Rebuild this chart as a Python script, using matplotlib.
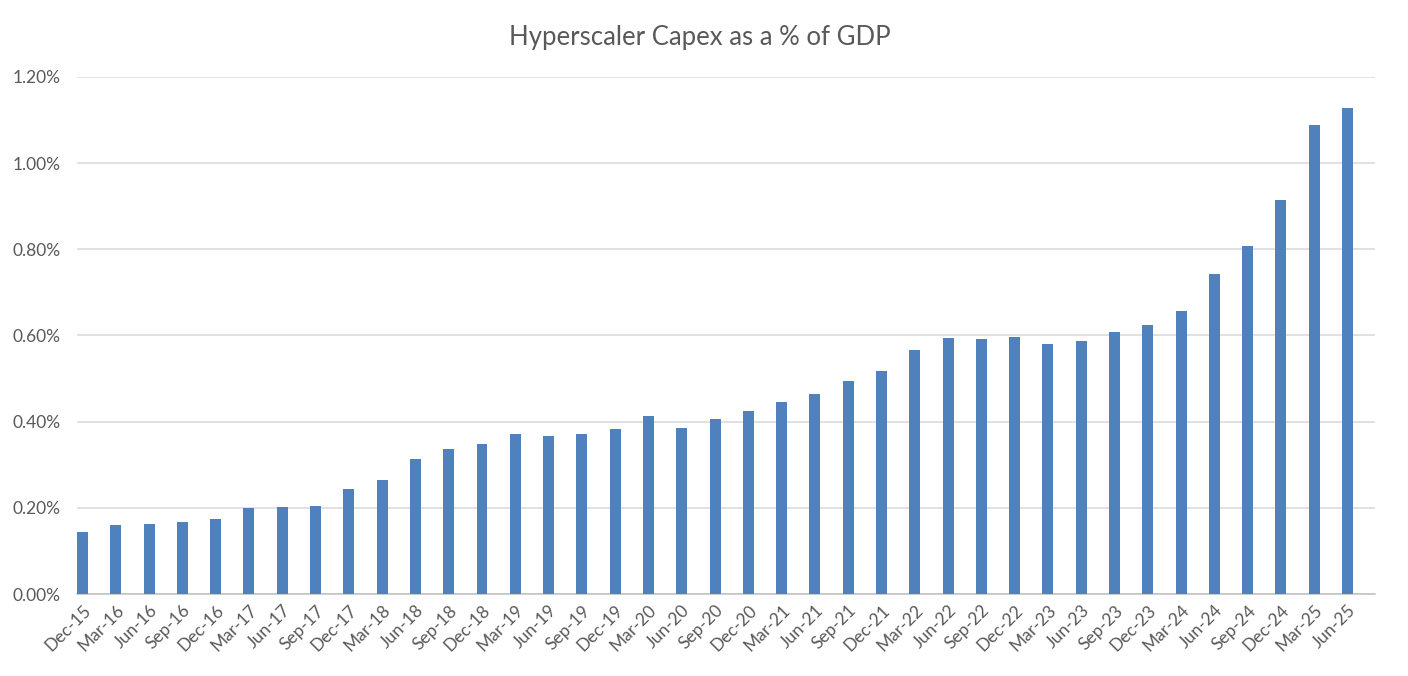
import numpy as np
import matplotlib.pyplot as plt
import matplotlib.ticker as mtick

plt.rcParams['font.family'] = ['Lato', 'DejaVu Sans']

# quarter labels and hyperscaler capex as % of GDP
quarters = ['Dec-15', 'Mar-16', 'Jun-16', 'Sep-16', 'Dec-16', 'Mar-17', 'Jun-17', 'Sep-17',
            'Dec-17', 'Mar-18', 'Jun-18', 'Sep-18', 'Dec-18', 'Mar-19', 'Jun-19', 'Sep-19',
            'Dec-19', 'Mar-20', 'Jun-20', 'Sep-20', 'Dec-20', 'Mar-21', 'Jun-21', 'Sep-21',
            'Dec-21', 'Mar-22', 'Jun-22', 'Sep-22', 'Dec-22', 'Mar-23', 'Jun-23', 'Sep-23',
            'Dec-23', 'Mar-24', 'Jun-24', 'Sep-24', 'Dec-24', 'Mar-25', 'Jun-25']
capex_pct = [0.145, 0.160, 0.163, 0.167, 0.174, 0.200, 0.202, 0.204,
             0.244, 0.265, 0.313, 0.337, 0.348, 0.371, 0.367, 0.371,
             0.383, 0.413, 0.385, 0.406, 0.425, 0.446, 0.464, 0.494,
             0.518, 0.566, 0.594, 0.592, 0.597, 0.580, 0.587, 0.608,
             0.624, 0.657, 0.743, 0.808, 0.915, 1.089, 1.128]

text_col = '#595959'

fig = plt.figure(figsize=(14.08, 6.76), dpi=100)
ax = fig.add_axes([0.0547, 0.1213, 0.9219, 0.7648])

x = np.arange(len(quarters))
ax.bar(x, capex_pct, width=0.33, color='#4F81BD', zorder=3)

ax.set_ylim(0, 1.2)
ax.set_xlim(-0.165, len(quarters) - 1 + 0.826)
ax.set_yticks(np.arange(0, 1.21, 0.2))
ax.yaxis.set_major_formatter(mtick.FuncFormatter(lambda v, p: '%.2f%%' % v))
ax.grid(axis='y', color='#D9D9D9', linewidth=1.1, zorder=0)

ax.set_xticks(x)
ax.set_xticklabels(quarters, rotation=45, ha='right', rotation_mode='anchor')
ax.tick_params(axis='both', length=0, colors=text_col, labelsize=12.5)
ax.tick_params(axis='y', pad=12)
ax.tick_params(axis='x', pad=6)

for s in ['top', 'right', 'left']:
    ax.spines[s].set_visible(False)
ax.spines['bottom'].set_color('#BFBFBF')
ax.spines['bottom'].set_linewidth(1.1)

fig.text(0.497, 0.945, 'Hyperscaler Capex as a % of GDP', ha='center', va='center',
         fontsize=18.5, color=text_col)

fig.savefig('out.png', dpi=100)
